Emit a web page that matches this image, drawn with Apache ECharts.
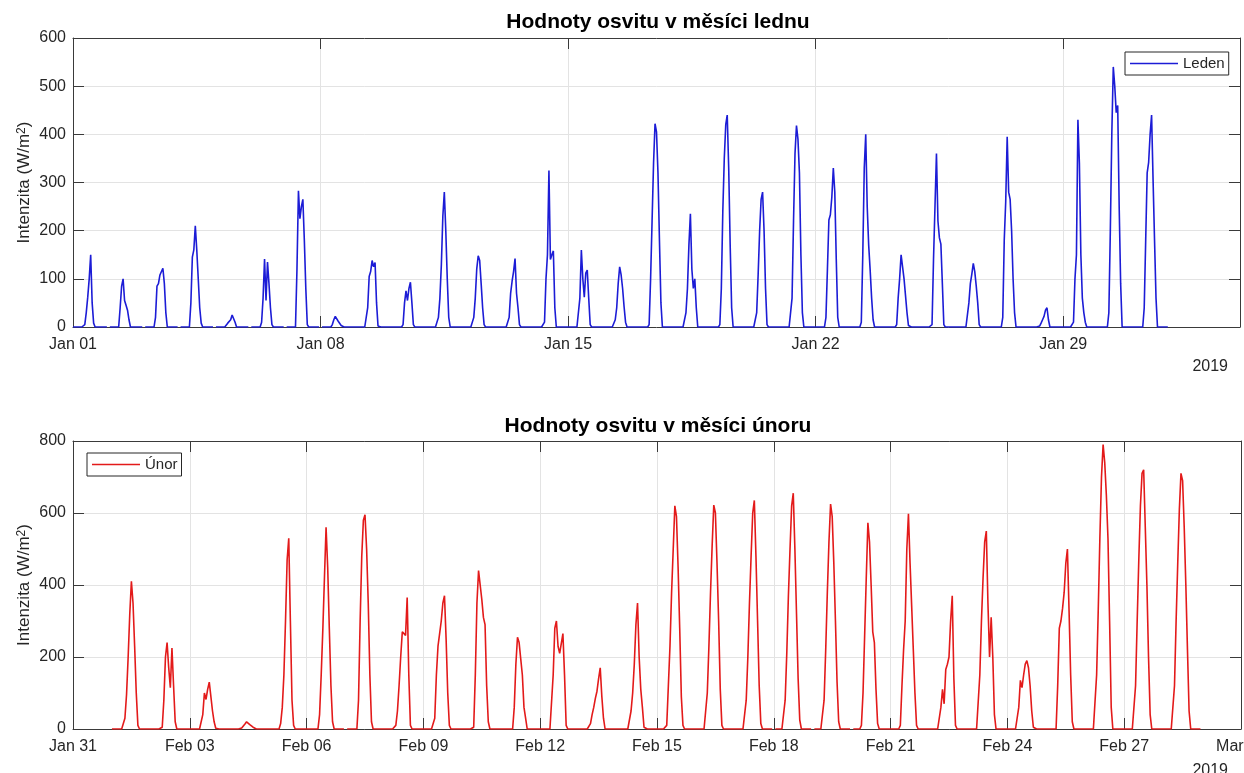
<!DOCTYPE html>
<html>
<head>
<meta charset="utf-8">
<script src="https://cdn.jsdelivr.net/npm/echarts@6/dist/echarts.min.js"></script>
<style>
html,body{margin:0;padding:0;background:#fff;}
#chart{width:1244px;height:773px;}
</style>
</head>
<body>
<div id="chart"></div>
<script>
// ---- January (Leden): hourly irradiance, values listed from hour 7 to hour 16, zero otherwise ----
const ledenStartHour = 7;
const ledenDays = [
  [0,5,30,62,100,150,50,8,0,0],
  [0,40,85,100,55,45,35,15,0,0],
  [0,20,85,90,108,112,122,90,30,0],
  [0,50,145,160,210,160,100,40,8,0],
  [0,2,8,12,15,25,27,10,0,0],
  [0,10,60,141,55,135,90,40,5,0],
  [0,120,283,225,250,265,180,80,5,0],
  [0,5,15,22,18,12,8,3,0,0],
  [0,40,105,115,138,125,134,50,2,0],
  [0,5,50,75,55,80,93,50,5,0],
  [0,20,60,130,230,280,200,100,20,0],
  [0,20,60,120,148,138,90,40,5,0],
  [0,20,70,95,115,142,70,40,5,0],
  [0,10,100,150,325,140,150,158,40,0],
  [0,60,160,100,62,112,118,60,5,0],
  [0,15,40,90,125,108,80,42,10,0],
  [5,100,220,340,422,405,320,180,50,0],
  [0,30,80,170,235,120,80,100,40,0],
  [5,80,240,350,420,440,330,170,40,0],
  [0,30,110,200,265,280,200,80,5,0],
  [0,60,220,360,418,390,320,150,30,0],
  [20,120,222,233,270,330,280,140,20,0],
  [10,150,330,400,250,170,118,60,15,0],
  [5,60,100,150,125,100,65,30,3,0],
  [5,140,250,360,220,185,172,90,5,0],
  [0,50,90,110,132,115,85,50,5,0],
  [20,180,260,395,280,265,200,100,30,0],
  [0,2,8,15,22,35,40,15,0,0],
  [10,100,150,430,340,150,60,30,10,0],
  [30,200,400,540,500,445,460,250,90,0],
  [40,180,320,342,400,440,306,180,60,0]
];
const ledenMissingMidnight = [2,3,4,5,6,7,8];
const ledenTicks = ['Jan 01','Jan 08','Jan 15','Jan 22','Jan 29'];
const ledenTickStep = 7;
const ledenDaySpan = 33;

// ---- February (Únor): hourly irradiance, values listed from hour 6 to hour 17, zero otherwise ----
const unorStartHour = 6;
const unorDays = [
  [0,0,30,95,200,320,410,350,230,100,10,0],
  [0,5,80,200,240,170,115,225,120,20,0,0],
  [0,0,40,100,82,110,130,90,50,20,2,0],
  [0,0,3,8,14,20,18,12,10,5,0,0],
  [0,0,15,60,150,300,470,530,300,80,10,0],
  [0,0,40,150,276,420,560,450,280,120,20,0],
  [0,0,80,300,480,580,595,500,350,150,20,0],
  [0,10,50,120,200,270,265,260,365,150,10,0],
  [0,30,150,230,265,300,350,370,250,100,10,0],
  [0,5,150,350,440,400,360,310,290,120,20,0],
  [0,0,60,180,255,240,195,150,60,30,0,0],
  [0,5,150,280,300,230,210,215,265,150,10,0],
  [0,15,40,60,85,105,140,170,90,30,0,0],
  [0,5,50,100,180,290,350,200,110,60,5,0],
  [10,120,230,380,500,620,590,450,280,90,10,0],
  [5,100,230,380,510,622,600,460,300,110,10,0],
  [0,80,200,350,480,600,635,480,300,120,15,0],
  [0,80,210,370,500,620,655,500,320,140,25,0],
  [0,80,220,380,520,625,590,460,300,130,20,0],
  [10,100,260,420,573,520,400,270,240,110,15,0],
  [10,120,220,300,500,598,460,340,220,100,10,0],
  [0,60,110,70,165,180,200,300,370,140,10,0],
  [0,150,300,420,520,550,350,200,310,200,40,0],
  [5,60,135,115,150,180,190,170,120,50,5,0],
  [0,120,280,300,335,380,460,500,330,150,20,0],
  [0,150,330,530,700,790,740,650,530,300,60,0],
  [0,120,300,470,620,710,720,560,400,200,40,0],
  [0,120,300,460,610,710,690,560,400,220,50,0]
];
const unorMissingMidnight = [7,18,19,20];
const unorTicks = ['Jan 31','Feb 03','Feb 06','Feb 09','Feb 12','Feb 15','Feb 18','Feb 21','Feb 24','Feb 27','Mar 02'];
const unorTickStep = 3;
const unorDaySpan = 30;

const ledenYMax = 600, ledenYStep = 100;
const unorYMax = 800, unorYStep = 200;

// ---- build series from the arrays ----
function buildSeries(days, startHour, dayOffset, missing) {
  const out = [];
  days.forEach(function (prof, i) {
    const dayNum = i + 1;
    for (let h = 0; h < 24; h++) {
      let v = (h >= startHour && h < startHour + prof.length) ? prof[h - startHour] : 0;
      if (h === 0 && missing.indexOf(dayNum) >= 0) v = null;
      out.push([i + dayOffset + h / 24, v]);
    }
  });
  return out;
}
const ledenData = buildSeries(ledenDays, ledenStartHour, 0, ledenMissingMidnight);
const unorData = buildSeries(unorDays, unorStartHour, 1, unorMissingMidnight);

const FONT = '"Liberation Sans", Arial, Helvetica, sans-serif';
const AX = '#3a3a3a';
const GRID = '#e3e3e3';
const TXT = '#262626';
const BLUE = '#1c1cd6';
const RED = '#e31a1a';

function tickFormatter(labels, step) {
  return function (v) {
    const i = Math.round(v / step);
    if (Math.abs(v - i * step) < 1e-6 && i >= 0 && i < labels.length) return labels[i];
    return '';
  };
}

function xMain(grid, max, step, labels) {
  return {
    gridIndex: grid, type: 'value', min: 0, max: max, interval: step,
    axisLine: {show: true, onZero: false, lineStyle: {color: AX, width: 1}},
    axisTick: {show: true, inside: true, length: 11, lineStyle: {color: AX, width: 1}},
    axisLabel: {show: true, formatter: tickFormatter(labels, step), color: TXT, fontSize: 16, fontFamily: FONT, margin: 10},
    splitLine: {show: true, lineStyle: {color: GRID, width: 1}}
  };
}
function xTop(grid, max, step) {
  return {
    gridIndex: grid, type: 'value', position: 'top', min: 0, max: max, interval: step,
    axisLine: {show: true, onZero: false, lineStyle: {color: AX, width: 1}},
    axisTick: {show: true, inside: true, length: 11, lineStyle: {color: AX, width: 1}},
    axisLabel: {show: false}, splitLine: {show: false}
  };
}
function yMain(grid, max, step) {
  return {
    gridIndex: grid, type: 'value', min: 0, max: max, interval: step,
    name: 'Intenzita (W/m{sup|2})', nameLocation: 'middle', nameGap: 40, nameMoveOverlap: false,
    nameTextStyle: {fontSize: 17, color: TXT, fontFamily: FONT,
      rich: {sup: {fontSize: 12, color: TXT, fontFamily: FONT, verticalAlign: 'top', lineHeight: 12}}},
    axisLine: {show: true, onZero: false, lineStyle: {color: AX, width: 1}},
    axisTick: {show: true, inside: true, length: 11, lineStyle: {color: AX, width: 1}},
    axisLabel: {show: true, color: TXT, fontSize: 16, fontFamily: FONT, margin: 7},
    splitLine: {show: true, lineStyle: {color: GRID, width: 1}}
  };
}
function yRight(grid, max, step) {
  return {
    gridIndex: grid, type: 'value', position: 'right', min: 0, max: max, interval: step,
    axisLine: {show: true, onZero: false, lineStyle: {color: AX, width: 1}},
    axisTick: {show: true, inside: true, length: 11, lineStyle: {color: AX, width: 1}},
    axisLabel: {show: false}, splitLine: {show: false}
  };
}
function legendBox(name, left, top) {
  return {
    data: [{name: name, icon: 'rect'}], left: left, top: top, orient: 'vertical',
    padding: [4, 4, 4, 5], itemWidth: 48, itemHeight: 1.6, itemGap: 0,
    borderColor: TXT, borderWidth: 1, backgroundColor: '#fff', borderRadius: 0,
    textStyle: {fontSize: 15, color: TXT, fontFamily: FONT, lineHeight: 15},
    selectedMode: false
  };
}

const chart = echarts.init(document.getElementById('chart'), null, {renderer: 'canvas'});
chart.setOption({
  animation: false,
  backgroundColor: '#ffffff',
  textStyle: {fontFamily: FONT},
  grid: [
    {left: 73, top: 38, width: 1167, height: 289, outerBoundsMode: 'none', containLabel: false},
    {left: 73, top: 441, width: 1168, height: 288, outerBoundsMode: 'none', containLabel: false}
  ],
  xAxis: [
    xMain(0, ledenDaySpan, ledenTickStep, ledenTicks),
    xTop(0, ledenDaySpan, ledenTickStep),
    xMain(1, unorDaySpan, unorTickStep, unorTicks),
    xTop(1, unorDaySpan, unorTickStep)
  ],
  yAxis: [
    yMain(0, ledenYMax, ledenYStep),
    yRight(0, ledenYMax, ledenYStep),
    yMain(1, unorYMax, unorYStep),
    yRight(1, unorYMax, unorYStep)
  ],
  legend: [
    legendBox('Leden', 1125, 52),
    legendBox('Únor', 87, 453)
  ],
  graphic: [
    {type: 'text', x: 658, y: 22, style: {text: 'Hodnoty osvitu v měsíci lednu', font: 'bold 21px ' + FONT, fill: '#000', textAlign: 'center', textVerticalAlign: 'middle'}},
    {type: 'text', x: 658, y: 426, style: {text: 'Hodnoty osvitu v měsíci únoru', font: 'bold 21px ' + FONT, fill: '#000', textAlign: 'center', textVerticalAlign: 'middle'}},
    {type: 'text', x: 1228, y: 367, style: {text: '2019', font: '16px ' + FONT, fill: TXT, textAlign: 'right', textVerticalAlign: 'middle'}},
    {type: 'text', x: 1228, y: 771, style: {text: '2019', font: '16px ' + FONT, fill: TXT, textAlign: 'right', textVerticalAlign: 'middle'}}
  ],
  series: [
    {
      name: 'Leden', type: 'line', xAxisIndex: 0, yAxisIndex: 0, data: ledenData,
      showSymbol: false, symbol: 'none', connectNulls: false,
      lineStyle: {color: BLUE, width: 1.6}, itemStyle: {color: BLUE}
    },
    {
      name: 'Únor', type: 'line', xAxisIndex: 2, yAxisIndex: 2, data: unorData,
      showSymbol: false, symbol: 'none', connectNulls: false,
      lineStyle: {color: RED, width: 1.6}, itemStyle: {color: RED}
    }
  ]
});
</script>
</body>
</html>
